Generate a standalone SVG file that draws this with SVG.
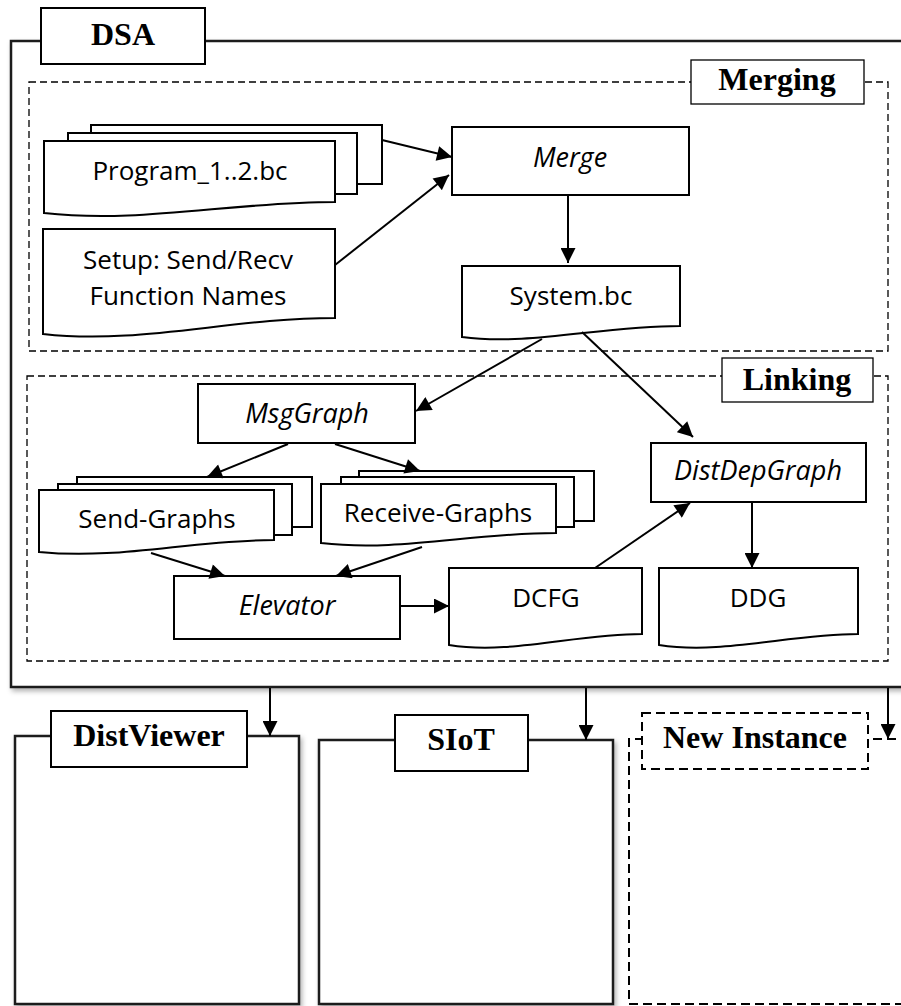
<svg xmlns="http://www.w3.org/2000/svg" width="901" height="1006" viewBox="0 0 901 1006">
<defs>
<marker id="ah" viewBox="0 0 10 10" refX="10" refY="5" markerUnits="userSpaceOnUse" markerWidth="16" markerHeight="15" orient="auto"><path d="M0,0 L10,5 L0,10 Z" fill="#000"/></marker>
<filter id="sh" x="-5%" y="-5%" width="115%" height="115%"><feDropShadow dx="2" dy="3" stdDeviation="2.5" flood-color="#000" flood-opacity="0.3"/></filter>
</defs>
<style>
.box{fill:#fff;stroke:#000;stroke-width:2}
.outer{fill:#fff;stroke:#1a1a1a;stroke-width:2.5}
.tab{fill:#fff;stroke:#000;stroke-width:2}
.tabthin{fill:#fff;stroke:#000;stroke-width:1.3}
.dash{fill:none;stroke:#000;stroke-width:1.3;stroke-dasharray:7,4}
.dashbox{fill:#fff;stroke:#000;stroke-width:2;stroke-dasharray:9,5}
.lbl{font-family:"Liberation Serif",serif;font-weight:bold;font-size:32px;text-anchor:middle;fill:#000}
.t{font-family:"Open Sans","Liberation Sans",sans-serif;font-size:26px;text-anchor:middle;fill:#000}
.ti{font-family:"Open Sans","Liberation Sans",sans-serif;font-size:27px;font-style:italic;text-anchor:middle;fill:#000}
.c{fill:none;stroke:#000;stroke-width:2;marker-end:url(#ah)}
.cl{fill:none;stroke:#000;stroke-width:2}
</style>

<g id="DSA">
<rect class="outer" x="11" y="41" width="905" height="646" filter="url(#sh)"/>
<rect class="tab" x="41" y="8" width="164" height="56"/>
<text class="lbl" x="123" y="45">DSA</text>
</g>

<g id="Merging">
<rect class="dash" x="29" y="82" width="859" height="269"/>
<rect class="tabthin" x="691" y="60" width="173" height="44"/>
<text class="lbl" x="777" y="90">Merging</text>
</g>

<g id="Linking">
<rect class="dash" x="27" y="376" width="861" height="285"/>
<rect class="tabthin" x="722" y="358" width="151" height="44"/>
<text class="lbl" x="797" y="390">Linking</text>
</g>

<g id="Program">
<rect class="box" x="91" y="125" width="291" height="59"/>
<rect class="box" x="68" y="133" width="289" height="61"/>
<path class="box" d="M44,141 H335 V202 C230,202 140,224 44,213 Z"/>
<text class="t" x="190" y="180">Program_1..2.bc</text>
</g>

<g id="Setup">
<path class="box" d="M43,229 H335 V318 C230,318 140,345 43,334 Z"/>
<text class="t" x="188" y="269">Setup: Send/Recv</text>
<text class="t" x="188" y="305">Function Names</text>
</g>

<g id="Merge">
<rect class="box" x="452" y="127" width="237" height="68"/>
<text class="ti" x="570" y="167">Merge</text>
</g>

<g id="System">
<path class="box" d="M462,266 H680 V326 C600,326 530,346 462,337 Z"/>
<text class="t" x="571" y="305">System.bc</text>
</g>

<g id="MsgGraph">
<rect class="box" x="198" y="384" width="217" height="59"/>
<text class="ti" x="307" y="423">MsgGraph</text>
</g>

<g id="DistDepGraph">
<rect class="box" x="651" y="443" width="215" height="59"/>
<text class="ti" x="758" y="480">DistDepGraph</text>
</g>

<g id="SendGraphs">
<rect class="box" x="77" y="477" width="235" height="50"/>
<rect class="box" x="58" y="484" width="234" height="51"/>
<path class="box" d="M39,490 H274 V540 C190,540 120,560 39,552 Z"/>
<text class="t" x="157" y="528">Send-Graphs</text>
</g>

<g id="ReceiveGraphs">
<rect class="box" x="359" y="471" width="235" height="50"/>
<rect class="box" x="341" y="477" width="233" height="50"/>
<path class="box" d="M321,484 H556 V533 C470,533 400,552 321,543 Z"/>
<text class="t" x="438" y="522">Receive-Graphs</text>
</g>

<g id="Elevator">
<rect class="box" x="174" y="576" width="226" height="63"/>
<text class="ti" x="287" y="615">Elevator</text>
</g>

<g id="DCFG">
<path class="box" d="M449,568 H642 V634 C575,634 510,655 449,645 Z"/>
<text class="t" x="546" y="607">DCFG</text>
</g>

<g id="DDG">
<path class="box" d="M659,568 H858 V634 C790,634 722,655 659,645 Z"/>
<text class="t" x="758" y="607">DDG</text>
</g>

<g id="DistViewer">
<rect class="outer" x="15" y="736" width="284" height="268" filter="url(#sh)"/>
<rect class="tab" x="51" y="711" width="196" height="56"/>
<text class="lbl" x="149" y="746">DistViewer</text>
</g>

<g id="SIoT">
<rect class="outer" x="319" y="740" width="294" height="264" filter="url(#sh)"/>
<rect class="tab" x="395" y="715" width="133" height="56"/>
<text class="lbl" x="461" y="750">SIoT</text>
</g>

<g id="NewInstance">
<path class="dashbox" d="M910,739 H629 V1004 H910"/>
<rect class="dashbox" x="642" y="713" width="226" height="56"/>
<text class="lbl" x="755" y="748">New Instance</text>
</g>

<g id="connectors">
<path class="c" d="M382,140 L452,157"/>
<path class="c" d="M335,265 L449,175"/>
<path class="c" d="M568,195 L568,263"/>
<path class="c" d="M542,339 L416,411"/>
<path class="c" d="M582,332 L693,437"/>
<path class="c" d="M288,444 L207,477"/>
<path class="c" d="M335,444 L420,471"/>
<path class="c" d="M151,553 L225,576"/>
<path class="c" d="M422,547 L336,576"/>
<path class="c" d="M400,606 L449,606"/>
<path class="c" d="M595,568 L690,503"/>
<path class="c" d="M752,502 L752,568"/>
<path class="c" d="M270,688 L270,736"/>
<path class="c" d="M586,688 L586,740"/>
<path class="c" d="M888,688 L888,739"/>
</g>
</svg>
